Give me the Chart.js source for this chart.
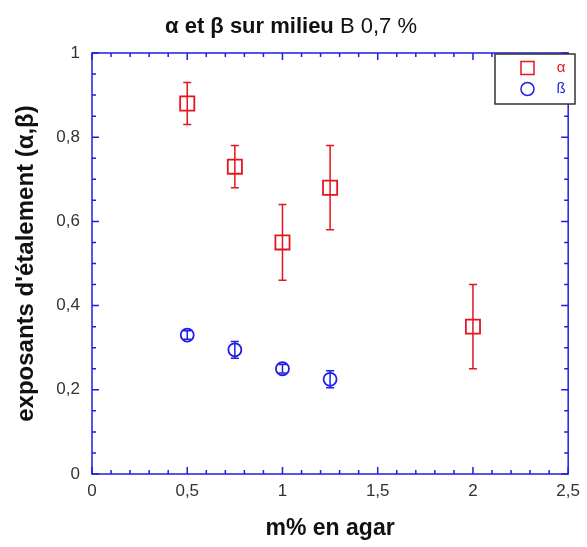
<!DOCTYPE html>
<html>
<head>
<meta charset="utf-8">
<script src="https://cdn.jsdelivr.net/npm/chart.js@4"></script>
<style>
  html, body { margin: 0; padding: 0; background: #fff; }
  #wrap { width: 587px; height: 547px; }
</style>
</head>
<body>
<div id="wrap"><canvas id="chart"></canvas></div>
<script>
// Data
const xAlpha = [0.5, 0.75, 1, 1.25, 2];
const alpha = [0.88, 0.73, 0.55, 0.68, 0.35];
const alphaErr = [0.05, 0.05, 0.09, 0.10, 0.10];

const xBeta = [0.5, 0.75, 1, 1.25];
const beta = [0.33, 0.295, 0.25, 0.225];
const betaErr = [0.01, 0.02, 0.01, 0.02];

const xTicks = [0, 0.5, 1, 1.5, 2, 2.5];
const yTicks = [0, 0.2, 0.4, 0.6, 0.8, 1];

const RED = "rgb(230,20,30)";
const BLUE = "rgb(30,30,230)";

function fmt(v) {
  return String(Math.round(v * 10) / 10).replace(".", ",");
}

// error bars
const errorBars = {
  id: "errorBars",
  afterDatasetsDraw(chart) {
    const ctx = chart.ctx;
    const xs = chart.scales.x, ys = chart.scales.y;
    chart.data.datasets.forEach(ds => {
      ctx.save();
      ctx.strokeStyle = ds.borderColor;
      ctx.lineWidth = 1.5;
      ds.data.forEach(p => {
        const px = xs.getPixelForValue(p.x);
        const top = ys.getPixelForValue(p.y + p.err);
        const bot = ys.getPixelForValue(p.y - p.err);
        ctx.beginPath();
        ctx.moveTo(px, top); ctx.lineTo(px, bot);
        ctx.moveTo(px - 4, top); ctx.lineTo(px + 4, top);
        ctx.moveTo(px - 4, bot); ctx.lineTo(px + 4, bot);
        ctx.stroke();
      });
      ctx.restore();
    });
  }
};

// blue frame with inward ticks on all four sides
const frame = {
  id: "frame",
  beforeDatasetsDraw(chart) {
    const ctx = chart.ctx;
    const a = chart.chartArea;
    const xs = chart.scales.x, ys = chart.scales.y;
    ctx.save();
    ctx.strokeStyle = BLUE;
    ctx.lineWidth = 1.5;
    ctx.strokeRect(a.left, a.top, a.right - a.left, a.bottom - a.top);
    ctx.beginPath();
    for (let i = 0; i <= 25; i++) {
      const v = i / 10;
      const len = i % 5 === 0 ? 7 : 4;
      const px = xs.getPixelForValue(v);
      ctx.moveTo(px, a.bottom); ctx.lineTo(px, a.bottom - len);
      ctx.moveTo(px, a.top); ctx.lineTo(px, a.top + len);
    }
    for (let i = 0; i <= 20; i++) {
      const v = i / 20;
      const len = i % 4 === 0 ? 7 : 4;
      const py = ys.getPixelForValue(v);
      ctx.moveTo(a.left, py); ctx.lineTo(a.left + len, py);
      ctx.moveTo(a.right, py); ctx.lineTo(a.right - len, py);
    }
    ctx.stroke();
    ctx.restore();
  }
};

// title (bold part + regular part) and legend box
const decor = {
  id: "decor",
  afterDraw(chart) {
    const ctx = chart.ctx;
    ctx.save();
    const part1 = "α et β sur milieu ";
    const part2 = "B 0,7 %";
    const f1 = "bold 22px 'Liberation Sans', Arial, sans-serif";
    const f2 = "22px 'Liberation Sans', Arial, sans-serif";
    ctx.font = f1; const w1 = ctx.measureText(part1).width;
    ctx.font = f2; const w2 = ctx.measureText(part2).width;
    const x0 = 291 - (w1 + w2) / 2;
    ctx.fillStyle = "#111";
    ctx.textBaseline = "alphabetic";
    ctx.textAlign = "left";
    ctx.font = f1; ctx.fillText(part1, x0, 33);
    ctx.font = f2; ctx.fillText(part2, x0 + w1, 33);

    // legend
    ctx.fillStyle = "#fff";
    ctx.fillRect(495, 54, 80, 50);
    ctx.strokeStyle = "#333";
    ctx.lineWidth = 1.5;
    ctx.strokeRect(495, 54, 80, 50);
    ctx.lineWidth = 1.5;
    ctx.strokeStyle = RED;
    ctx.strokeRect(521, 61.5, 13, 13);
    ctx.strokeStyle = BLUE;
    ctx.beginPath();
    ctx.arc(527.5, 89, 6.5, 0, Math.PI * 2);
    ctx.stroke();
    ctx.font = "15px 'Liberation Sans', Arial, sans-serif";
    ctx.textBaseline = "middle";
    ctx.textAlign = "center";
    ctx.fillStyle = RED; ctx.fillText("α", 561, 68);
    ctx.fillStyle = BLUE; ctx.fillText("ß", 561, 89);
    ctx.restore();
  }
};

const tickFont = { family: "'Liberation Sans', Arial, sans-serif", size: 17 };

new Chart(document.getElementById("chart"), {
  type: "scatter",
  data: {
    datasets: [
      {
        label: "α",
        data: xAlpha.map((x, i) => ({ x: x, y: alpha[i], err: alphaErr[i] })),
        pointStyle: "rect",
        pointRadius: 10,
        pointBorderWidth: 1.8,
        borderColor: RED,
        backgroundColor: "rgba(0,0,0,0)"
      },
      {
        label: "ß",
        data: xBeta.map((x, i) => ({ x: x, y: beta[i], err: betaErr[i] })),
        pointStyle: "circle",
        pointRadius: 6.5,
        pointBorderWidth: 1.8,
        borderColor: BLUE,
        backgroundColor: "rgba(0,0,0,0)"
      }
    ]
  },
  options: {
    responsive: true,
    maintainAspectRatio: false,
    animation: false,
    layout: { padding: { top: 53, right: 16, left: 0, bottom: 0 } },
    plugins: {
      legend: { display: false },
      tooltip: { enabled: false }
    },
    scales: {
      x: {
        type: "linear",
        min: 0, max: 2.5,
        afterBuildTicks: s => { s.ticks = xTicks.map(v => ({ value: v })); },
        afterFit: s => { s.height = 73; },
        grid: { display: false, drawTicks: false },
        border: { display: false },
        ticks: { callback: fmt, color: "#333", font: tickFont, padding: 7, maxRotation: 0 },
        title: {
          display: true, text: "m% en agar", color: "#111",
          font: { family: "'Liberation Sans', Arial, sans-serif", size: 23, weight: "bold" },
          padding: { top: 0, bottom: 5 }
        }
      },
      y: {
        type: "linear",
        min: 0, max: 1,
        afterBuildTicks: s => { s.ticks = yTicks.map(v => ({ value: v })); },
        afterFit: s => { s.width = 92; },
        grid: { display: false, drawTicks: false },
        border: { display: false },
        ticks: { callback: fmt, color: "#333", font: tickFont, padding: 12 },
        title: {
          display: true, text: "exposants d'étalement (α,β)", color: "#111",
          font: { family: "'Liberation Sans', Arial, sans-serif", size: 24, weight: "bold" },
          padding: { top: 12, bottom: 0 }
        }
      }
    }
  },
  plugins: [frame, errorBars, decor]
});
</script>
</body>
</html>
